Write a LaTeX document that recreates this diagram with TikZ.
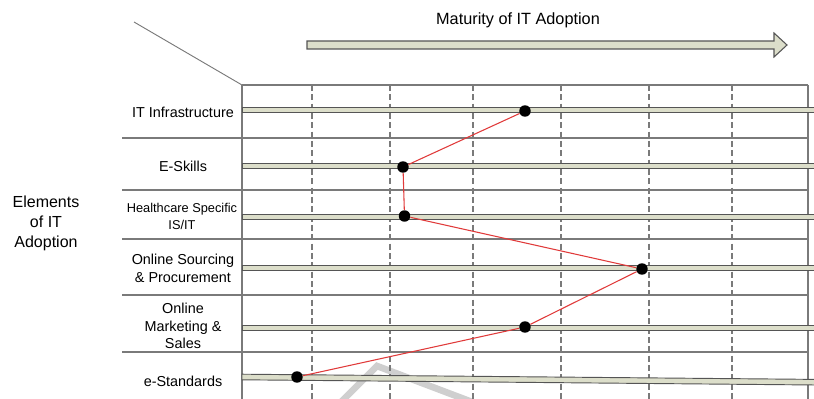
\documentclass[tikz,border=0pt]{standalone}
\usepackage{fontspec}
\setmainfont{Liberation Sans}
\begin{document}
\begin{tikzpicture}[x=0.75pt,y=-0.75pt,
  gridline/.style={draw=gridgrey,line width=0.8pt},
  dashline/.style={draw=gridgrey,line width=0.8pt,dash pattern=on 4.5pt off 2.5pt},
  bar/.style={fill=barfill,draw=bardraw,line width=0.7pt},
  dot/.style={circle,fill=black,inner sep=0pt,minimum size=8.6pt},
  link/.style={draw=linkred,line width=0.8pt},
  lbl/.style={align=center,inner sep=0pt,font=\fontsize{10.8pt}{13.3pt}\selectfont},
]
\definecolor{gridgrey}{HTML}{7A7A7A}
\definecolor{barfill}{HTML}{DCDECA}
\definecolor{bardraw}{HTML}{555555}
\definecolor{linkred}{HTML}{E03A3A}
\definecolor{wmgrey}{HTML}{CFCFCF}
\useasboundingbox (0,0) rectangle (814,399);
% watermark
\draw[wmgrey,line width=5pt,line join=miter] (338,405) -- (377,366) -- (480,405);
% diagonal
\draw[draw=gridgrey,line width=0.7pt] (134,22) -- (242,85);
% arrow
\draw[fill=barfill,draw=bardraw,line width=0.8pt]
  (307,41) -- (774,41) -- (774,33) -- (787,45) -- (774,57) -- (774,49) -- (307,49) -- cycle;
\node[inner sep=0pt,font=\fontsize{12.2pt}{14pt}\selectfont] (title) at (518,20) {Maturity of IT Adoption};
% grid
\draw[gridline] (242,85) -- (808,85);
\foreach \yy in {138,190,239,295,352} \draw[gridline] (122,\yy) -- (808,\yy);
\foreach \xx in {312,390,473,561,649,732} \draw[dashline] (\xx,85) -- (\xx,399);
\draw[gridline] (242,85) -- (242,399);
\draw[gridline] (808,85) -- (808,399);
% bars
\foreach \yy in {110,166,217,268,328} \draw[bar] (242,\yy-2.8) rectangle (816,\yy+2.8);
\draw[bar] (242,374.2) -- (816,379.4) -- (816,385) -- (242,379.8) -- cycle;
% labels
\node[align=center,inner sep=0pt,font=\fontsize{12pt}{15pt}\selectfont] (elem) at (46,223) {Elements\\of IT\\Adoption};
\node[lbl] (l1) at (183,112) {IT Infrastructure};
\node[lbl] (l2) at (183,166) {E-Skills};
\node[align=center,inner sep=0pt,font=\fontsize{9.6pt}{12.8pt}\selectfont] (l3) at (182,216) {Healthcare Specific\\IS/IT};
\node[lbl] (l4) at (183,268) {Online Sourcing\\\& Procurement};
\node[lbl] (l5) at (183,326) {Online\\Marketing \&\\Sales};
\node[lbl] (l6) at (183,381) {e-Standards};
% dots
\node[dot] (d1) at (525,111) {};
\node[dot] (d2) at (403,167) {};
\node[dot] (d3) at (404.5,216) {};
\node[dot] (d4) at (642,269) {};
\node[dot] (d5) at (525,327) {};
\node[dot] (d6) at (297,377) {};
\draw[link] (d1) -- (d2);
\draw[link] (d2) -- (d3);
\draw[link] (d3) -- (d4);
\draw[link] (d4) -- (d5);
\draw[link] (d5) -- (d6);
\end{tikzpicture}
\end{document}
